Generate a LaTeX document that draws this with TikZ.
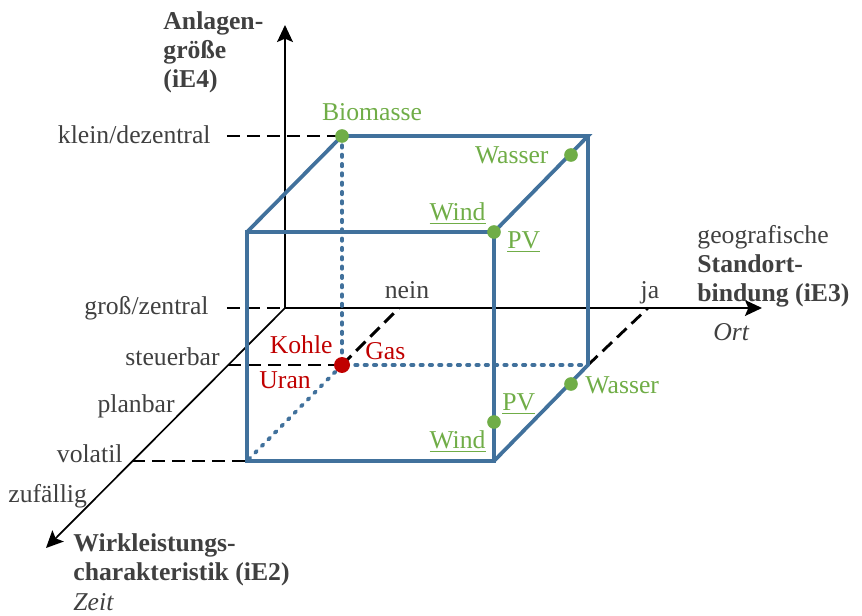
\documentclass[tikz,border=0pt]{standalone}
\usepackage{fontspec}
\setmainfont{Liberation Serif}
\usepackage{tikz}
\usetikzlibrary{
  arrows.meta,
  positioning
}
\definecolor{cubeblue}{RGB}{65,113,156}
\definecolor{srcgreen}{RGB}{112,173,71}
\definecolor{srcred}{RGB}{192,0,0}
\definecolor{txtgray}{RGB}{64,64,64}
\tikzset{
  axisline/.style = {
    -{Stealth[length=7.5pt, width=7pt, inset=1.5pt]},
    line width=0.75pt, black
  },
  guideline/.style = {black, line width=1.25pt, dash pattern=on 5.8pt off 3pt},
  cubeedge/.style = {cubeblue, line width=1.65pt},
  hiddenedge/.style = {
    cubeblue, line width=1.7pt, line cap=round,
    dash pattern=on 1.0pt off 3.1pt
  },
  srcdot/.style = {circle, fill=srcgreen, minimum size=6pt},
  srclabel/.style = {text=srcgreen},
  fossillabel/.style = {text=srcred}
}

\begin{document}
\begin{tikzpicture}[
    x=0.44pt, y=-0.44pt,
    every node/.style={
        font=\fontsize{11.3}{12.7}\selectfont,
        text=txtgray,
        inner sep=0pt
    }
]
\useasboundingbox (0,0) rectangle (862,616);

    % Axes
    \coordinate (O) at (285,308);
    \coordinate (ytip) at (285,25);
    \coordinate (xtip) at (762,308);
    \coordinate (ztip) at (46,548);

    % Cube corners (front / back)
    \coordinate (fbl) at (247,461);
    \coordinate (fbr) at (494,461);
    \coordinate (ftl) at (247,232);
    \coordinate (ftr) at (494,232);
    \coordinate (bbl) at (342,365);
    \coordinate (bbr) at (588,365);
    \coordinate (btl) at (342,136);
    \coordinate (btr) at (588,136);

    % Ends of the guide lines
    \coordinate (kd) at (227,136);
    \coordinate (gz) at (227,308);
    \coordinate (sb) at (228,365);
    \coordinate (vo) at (132,461);
    \coordinate (nein) at (399,308);
    \coordinate (ja) at (648,308);

    % Dashed guide lines
    \foreach \a/\b in {kd/btl, gz/O, sb/bbl, vo/fbl, bbl/nein, bbr/ja} {
        \draw[guideline] (\a) -- (\b);
    }

    \draw[axisline] (O) -- (ytip);
    \draw[axisline] (O) -- (xtip);
    \draw[axisline] (O) -- (ztip);

    % Hidden cube edges
    \draw[hiddenedge] (btl) -- (bbl) -- (bbr);
    \draw[hiddenedge] (bbl) -- (fbl);

    % Visible cube edges
    \draw[cubeedge] (ftl) -- (ftr) -- (fbr) -- (fbl) -- cycle;
    \draw[cubeedge] (ftl) -- (btl) -- (btr) -- (ftr);
    \draw[cubeedge] (btr) -- (bbr) -- (fbr);

    % Energy sources
    \node[srcdot] (bio) at (btl) {};
    \node[srcdot] (wasserA) at (571,155) {};
    \node[srcdot] (windpvA) at (ftr) {};
    \node[srcdot] (wasserB) at (571,384) {};
    \node[srcdot] (windpvB) at (494,422) {};
    \node[circle, fill=srcred, minimum size=7pt] (fossil) at (bbl) {};

    \node[srclabel, anchor=base] (biolbl) at (372,120) {Biomasse};
    \node[srclabel, anchor=base east] (wasserAlbl) at (549,163) {Wasser};
    \node[srclabel, anchor=base east] (windAlbl) at (486,220) {\underline{Wind}};
    \node[srclabel, anchor=base west] (pvAlbl) at (507,248) {\underline{PV}};
    \node[srclabel, anchor=base west] (wasserBlbl) at (585,393) {Wasser};
    \node[srclabel, anchor=base west] (pvBlbl) at (502,410) {\underline{PV}};
    \node[srclabel, anchor=base east] (windBlbl) at (486,448) {\underline{Wind}};
    \node[fossillabel, anchor=base east] (kohlelbl) at (333,353) {Kohle};
    \node[fossillabel, anchor=base west] (gaslbl) at (365,359) {Gas};
    \node[fossillabel, anchor=base west] (uranlbl) at (259,388) {Uran};

    % Tick labels
    \node[anchor=base east] (kdlbl) at (211,143) {klein/dezentral};
    \node[anchor=base east] (gzlbl) at (209,314) {groß/zentral};
    \node[anchor=base east] (sblbl) at (220,365) {steuerbar};
    \node[anchor=base east] (pblbl) at (175,412) {planbar};
    \node[anchor=base east] (volbl) at (123,462) {volatil};
    \node[anchor=base west] (zflbl) at (8,502) {zufällig};
    \node[anchor=base] (neinlbl) at (407,298) {nein};
    \node[anchor=base] (jalbl) at (650,298) {ja};

    % Axis titles
    \node[anchor=north west, align=left] (ie4) at (163,11)
        {\textbf{Anlagen-}\\\textbf{größe}\\\textbf{(iE4)}};
    \node[anchor=north west, align=left] (ie3) at (697,225)
        {geografische\\\textbf{Standort-}\\\textbf{bindung (iE3)}};
    \node[anchor=base west] (ort) at (713,340) {\textit{Ort}};
    \node[anchor=north west, align=left] (ie2) at (73,533)
        {\textbf{Wirkleistungs-}\\\textbf{charakteristik (iE2)}};
    \node[anchor=base west] (zeit) at (73,610) {\textit{Zeit}};

\end{tikzpicture}
\end{document}
